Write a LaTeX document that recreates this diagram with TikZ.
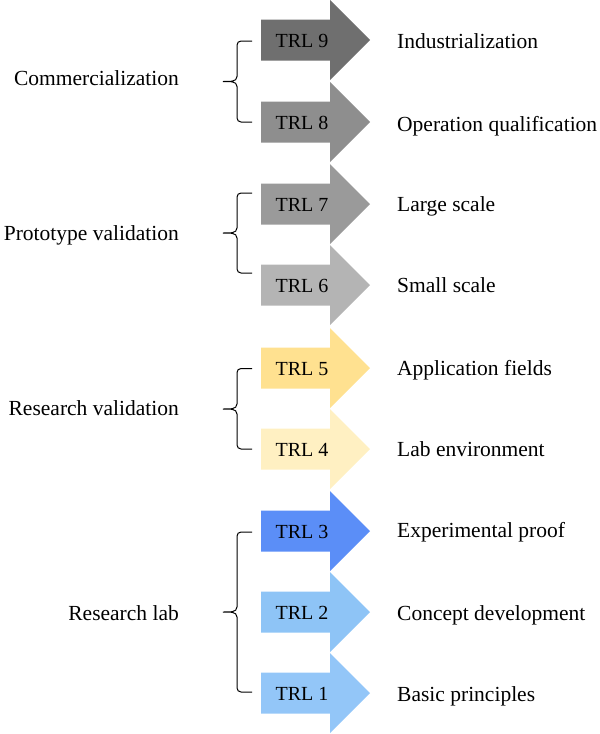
\documentclass[tikz,border=0pt]{standalone}
\usepackage{fontspec}
\setmainfont{Liberation Serif}
\definecolor{c9}{HTML}{6F6F6F}
\definecolor{c8}{HTML}{8E8E8E}
\definecolor{c7}{HTML}{9A9A9A}
\definecolor{c6}{HTML}{B4B4B4}
\definecolor{c5}{HTML}{FFE190}
\definecolor{c4}{HTML}{FFF0C2}
\definecolor{c3}{HTML}{5B8EF7}
\definecolor{c2}{HTML}{8EC4F6}
\definecolor{c1}{HTML}{93C6F8}
\tikzset{
  trltext/.style={font=\fontsize{20}{24}\selectfont, inner sep=0pt, anchor=base},
  rlabel/.style={font=\fontsize{21.5}{26}\selectfont, anchor=base west, inner sep=0pt},
  llabel/.style={font=\fontsize{21.5}{26}\selectfont, anchor=base east, inner sep=0pt},
  bracestyle/.style={draw=black, line width=1pt},
}
\newcommand{\trlarrow}[5]{% #1 level, #2 center y, #3 colour, #4 right text, #5 right text baseline
  \fill[#3] (261,#2-20.5) -- (330,#2-20.5) -- (330,#2-40) -- (370,#2) -- (330,#2+40) -- (330,#2+20.5) -- (261,#2+20.5) -- cycle;
  \node[trltext] (t#1) at (302,#2+7.5) {TRL #1};
  \node[rlabel] (r#1) at (397,#5) {#4};
}
\newcommand{\mybrace}[4]{% #1 name, #2 top y, #3 bottom y, #4 tip y
  \coordinate (#1top) at (252,#2);
  \coordinate (#1bot) at (252,#3);
  \coordinate (#1tip) at (223,#4);
  \draw[bracestyle] (#1top) -- (241,#2) to[out=180,in=90] (237,#2+4) -- (237,#4-5) to[out=-90,in=0] (#1tip) to[out=0,in=90] (237,#4+5) -- (237,#3-4) to[out=-90,in=180] (241,#3) -- (#1bot);
}
\begin{document}
\begin{tikzpicture}[x=1pt,y=-1pt]
\useasboundingbox (0,0) rectangle (600,734);
\trlarrow{1}{693}{c1}{Basic principles}{701.5}
\trlarrow{2}{612}{c2}{Concept development}{620}
\trlarrow{3}{531}{c3}{Experimental proof}{537.5}
\trlarrow{4}{449}{c4}{Lab environment}{456.5}
\trlarrow{5}{368}{c5}{Application fields}{375.5}
\trlarrow{6}{285}{c6}{Small scale}{292.5}
\trlarrow{7}{204}{c7}{Large scale}{211.5}
\trlarrow{8}{122}{c8}{Operation qualification}{131}
\trlarrow{9}{40}{c9}{Industrialization}{48}
\mybrace{bc}{41}{122}{81.5}
\mybrace{bp}{193}{273}{233}
\mybrace{bv}{368.5}{449}{409}
\mybrace{bl}{532}{692}{612}
\node[llabel] (lc) at (179,85) {Commercialization};
\node[llabel] (lp) at (179,240.5) {Prototype validation};
\node[llabel] (lv) at (179,415) {Research validation};
\node[llabel] (ll) at (179,620) {Research lab};
\end{tikzpicture}
\end{document}
